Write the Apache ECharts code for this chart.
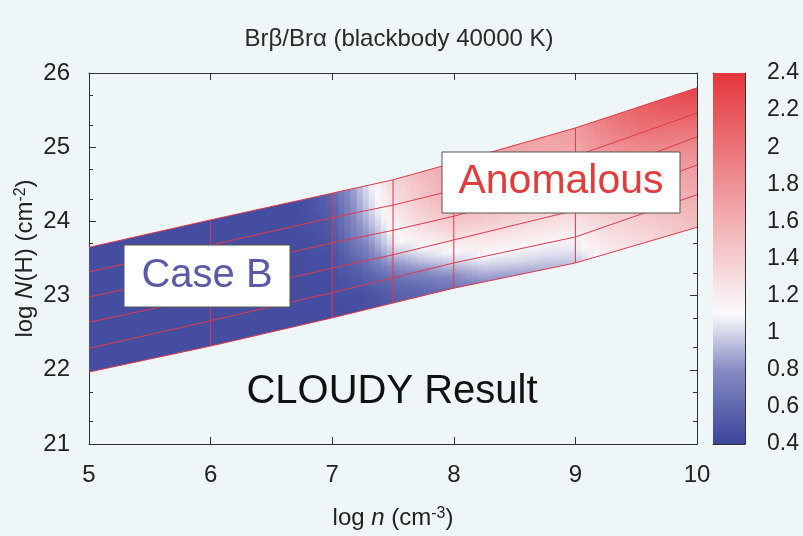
<!DOCTYPE html>
<html>
<head>
<meta charset="utf-8">
<script src="https://cdn.jsdelivr.net/npm/echarts@6/dist/echarts.min.js"></script>
<style>
  html, body { margin: 0; padding: 0; background: #eff6f8; }
  #chart { width: 803px; height: 536px; }
</style>
</head>
<body>
<div id="chart"></div>
<script>
// mesh nodes along log n, and the six mesh lines (log N(H)) from bottom edge to top edge
const xNodes = [5, 6, 7, 7.5, 8, 9, 10]
const line0 = [21.97, 22.32, 22.70, 22.90, 23.10, 23.44, 23.92]
const line1 = [22.29, 22.66, 23.04, 23.24, 23.44, 23.79, 24.36]
const line2 = [22.64, 22.99, 23.37, 23.55, 23.75, 24.15, 24.76]
const line3 = [22.98, 23.34, 23.71, 23.88, 24.07, 24.52, 25.14]
const line4 = [23.32, 23.68, 24.05, 24.22, 24.42, 24.88, 25.46]
const line5 = [23.65, 24.02, 24.38, 24.56, 24.79, 25.26, 25.80]
const gridXs = [6, 7, 7.5, 8, 9]

// Br beta / Br alpha ratio, sampled on columns of log n; rows go from bottom edge (row0) to top edge (row10)
const colX = [5, 5.25, 5.5, 5.75, 6, 6.25, 6.5, 6.75, 7, 7.25, 7.5, 7.75, 8, 8.25, 8.5, 8.75, 9, 9.25, 9.5, 9.75, 10]
const ratioRow0  = [0.45, 0.45, 0.45, 0.45, 0.45, 0.45, 0.45, 0.45, 0.45, 0.45, 0.52, 0.58, 0.66, 0.80, 0.85, 0.90, 0.95, 1.18, 1.28, 1.38, 1.50]
const ratioRow1  = [0.45, 0.45, 0.45, 0.45, 0.45, 0.45, 0.45, 0.45, 0.45, 0.46, 0.56, 0.66, 0.80, 0.95, 1.00, 1.02, 1.05, 1.25, 1.35, 1.45, 1.56]
const ratioRow2  = [0.45, 0.45, 0.45, 0.45, 0.45, 0.45, 0.45, 0.45, 0.45, 0.50, 0.64, 0.80, 0.98, 1.10, 1.12, 1.13, 1.15, 1.32, 1.42, 1.52, 1.62]
const ratioRow3  = [0.45, 0.45, 0.45, 0.45, 0.45, 0.45, 0.45, 0.45, 0.45, 0.55, 0.78, 0.98, 1.12, 1.20, 1.22, 1.23, 1.25, 1.40, 1.50, 1.60, 1.68]
const ratioRow4  = [0.45, 0.45, 0.45, 0.45, 0.45, 0.45, 0.45, 0.45, 0.46, 0.62, 0.94, 1.10, 1.25, 1.30, 1.32, 1.33, 1.35, 1.48, 1.58, 1.67, 1.75]
const ratioRow5  = [0.45, 0.45, 0.45, 0.45, 0.45, 0.45, 0.45, 0.45, 0.47, 0.70, 1.06, 1.22, 1.38, 1.42, 1.43, 1.43, 1.43, 1.56, 1.66, 1.75, 1.83]
const ratioRow6  = [0.45, 0.45, 0.45, 0.45, 0.45, 0.45, 0.45, 0.45, 0.49, 0.78, 1.12, 1.32, 1.48, 1.50, 1.50, 1.50, 1.50, 1.64, 1.75, 1.85, 1.92]
const ratioRow7  = [0.45, 0.45, 0.45, 0.45, 0.45, 0.45, 0.45, 0.45, 0.51, 0.85, 1.18, 1.40, 1.55, 1.56, 1.56, 1.55, 1.56, 1.72, 1.85, 1.95, 2.02]
const ratioRow8  = [0.45, 0.45, 0.45, 0.45, 0.45, 0.45, 0.45, 0.45, 0.53, 0.90, 1.25, 1.46, 1.60, 1.60, 1.60, 1.60, 1.62, 1.80, 1.95, 2.05, 2.12]
const ratioRow9  = [0.45, 0.45, 0.45, 0.45, 0.45, 0.45, 0.45, 0.45, 0.56, 0.94, 1.30, 1.50, 1.63, 1.63, 1.63, 1.64, 1.68, 1.88, 2.03, 2.15, 2.22]
const ratioRow10 = [0.45, 0.45, 0.45, 0.45, 0.45, 0.45, 0.45, 0.45, 0.59, 0.97, 1.34, 1.54, 1.66, 1.66, 1.66, 1.68, 1.72, 1.95, 2.10, 2.22, 2.32]

// tick values
const yMinorTicks = [21.301, 21.699, 22.301, 22.699, 23.301, 23.699, 24.301, 24.699, 25.301, 25.699]
const cbMin = 0.4
const cbMax = 2.4

const lines = [line0, line1, line2, line3, line4, line5]
const ratioRows = [ratioRow0, ratioRow1, ratioRow2, ratioRow3, ratioRow4, ratioRow5,
  ratioRow6, ratioRow7, ratioRow8, ratioRow9, ratioRow10]

const fontFamily = '"Liberation Sans", Arial, Helvetica, sans-serif'
const meshColor = '#e0394b'
const axisColor = '#333'

// blue - white - red palette
const paletteStops = [
  [0.4, [58, 68, 155]],
  [0.8, [135, 140, 196]],
  [1.1, [250, 250, 252]],
  [2.4, [228, 54, 60]]
]
function ratioColor(v) {
  if (v <= paletteStops[0][0]) v = paletteStops[0][0]
  if (v >= paletteStops[paletteStops.length - 1][0]) v = paletteStops[paletteStops.length - 1][0]
  for (let k = 0; k < paletteStops.length - 1; k++) {
    const a = paletteStops[k]
    const b = paletteStops[k + 1]
    if (v <= b[0]) {
      const t = (v - a[0]) / (b[0] - a[0])
      const c = a[1].map((ch, n) => Math.round(ch + (b[1][n] - ch) * t))
      return 'rgb(' + c.join(',') + ')'
    }
  }
  return 'rgb(228,54,60)'
}

// mesh line position at x (lines are straight between nodes)
function lineAt(j, x) {
  const ys = lines[j]
  let k = 0
  while (k < xNodes.length - 2 && x > xNodes[k + 1]) k++
  const t = (x - xNodes[k]) / (xNodes[k + 1] - xNodes[k])
  return ys[k] + (ys[k + 1] - ys[k]) * t
}
function rowAt(r, x) {
  if (r % 2 === 0) return lineAt(r / 2, x)
  return (lineAt((r - 1) / 2, x) + lineAt((r + 1) / 2, x)) / 2
}

const nSub = 5
function renderBand(params, api) {
  const i = api.value(2)
  const xa0 = colX[i]
  const xb0 = colX[i + 1]
  const step = (xb0 - xa0) / nSub
  const children = []
  for (let k = 0; k < nSub; k++) {
    const xa = xa0 + step * k
    const xb = xa + step + 0.01
    const xc = xa + step / 2
    const t = (xc - xa0) / (xb0 - xa0)
    const pb = api.coord([xc, rowAt(0, xc)])
    const pt = api.coord([xc, rowAt(10, xc)])
    const stops = []
    for (let r = 0; r <= 10; r++) {
      const v = ratioRows[r][i] + (ratioRows[r][i + 1] - ratioRows[r][i]) * t
      const py = api.coord([xc, rowAt(r, xc)])[1]
      stops.push({ offset: Math.min(1, Math.max(0, (pb[1] - py) / (pb[1] - pt[1]))), color: ratioColor(v) })
    }
    children.push({
      type: 'polygon',
      shape: {
        points: [
          api.coord([xa, lineAt(0, xa)]),
          api.coord([xb, lineAt(0, xb)]),
          api.coord([xb, lineAt(5, xb)]),
          api.coord([xa, lineAt(5, xa)])
        ]
      },
      style: {
        fill: { type: 'linear', x: pb[0], y: pb[1], x2: pt[0], y2: pt[1], colorStops: stops, global: true }
      }
    })
  }
  return { type: 'group', children: children }
}

function renderVertical(params, api) {
  const p1 = api.coord([api.value(0), api.value(1)])
  const p2 = api.coord([api.value(0), api.value(2)])
  return {
    type: 'line',
    shape: { x1: p1[0], y1: p1[1], x2: p2[0], y2: p2[1] },
    style: { stroke: meshColor, lineWidth: 1 }
  }
}

function renderColorbar(params, api) {
  const top = api.coord([0, api.value(2)])
  const bottom = api.coord([0, api.value(1)])
  const cs = params.coordSys
  const stops = paletteStops.map(s => ({ offset: (s[0] - cbMin) / (cbMax - cbMin), color: ratioColor(s[0]) }))
  return {
    type: 'rect',
    shape: { x: cs.x, y: top[1], width: cs.width, height: bottom[1] - top[1] },
    style: { fill: { type: 'linear', x: 0, y: 1, x2: 0, y2: 0, colorStops: stops } }
  }
}

const labelStyle = { fontFamily: fontFamily, fontSize: 24, color: '#222' }
const hiddenAxisBits = { axisLabel: { show: false }, splitLine: { show: false } }
const nameRich = {
  t: { fontFamily: fontFamily, fontSize: 24, color: '#222' },
  i: { fontFamily: fontFamily, fontSize: 24, color: '#222', fontStyle: 'italic' },
  s: { fontFamily: fontFamily, fontSize: 16, color: '#222', verticalAlign: 'top', lineHeight: 12 }
}

const chart = echarts.init(document.getElementById('chart'))

const bandData = colX.slice(0, -1).map((x, i) => [x, 23, i])
const verticalData = gridXs.map(x => {
  const k = xNodes.indexOf(x)
  return [x, line0[k], line5[k]]
})
const lineSeries = lines.map((ys, j) => ({
  type: 'line',
  name: 'line' + j,
  xAxisIndex: 0,
  yAxisIndex: 0,
  data: xNodes.map((x, k) => [x, ys[k]]),
  symbol: 'none',
  silent: true,
  z: 4,
  lineStyle: { color: meshColor, width: 1 }
}))

const option = {
  animation: false,
  backgroundColor: '#eff6f8',
  title: {
    text: 'Br\u03b2/Br\u03b1 (blackbody 40000 K)',
    left: 394,
    top: 22,
    textAlign: 'center',
    textStyle: { fontFamily: fontFamily, fontSize: 24, fontWeight: 'normal', color: '#2a2a2a' }
  },
  grid: [
    { left: 89, top: 73, width: 608, height: 371 },
    { left: 713, top: 73, width: 32, height: 371 }
  ],
  xAxis: [
    {
      gridIndex: 0, type: 'value', min: 5, max: 10, interval: 1, position: 'bottom',
      axisLine: { onZero: false, lineStyle: { color: axisColor, width: 1 } },
      axisTick: { inside: true, length: 7, lineStyle: { color: axisColor } },
      axisLabel: Object.assign({ margin: 19 }, labelStyle),
      splitLine: { show: false },
      name: '{t|log }{i|n}{t| (cm}{s|-3}{t|)}',
      nameLocation: 'middle',
      nameGap: 62,
      nameTextStyle: { rich: nameRich }
    },
    {
      gridIndex: 0, type: 'value', min: 5, max: 10, interval: 1, position: 'top',
      axisLine: { onZero: false, lineStyle: { color: axisColor, width: 1 } },
      axisTick: { inside: true, length: 7, lineStyle: { color: axisColor } },
      axisLabel: { show: false }, splitLine: { show: false }
    },
    {
      gridIndex: 1, type: 'value', min: 0, max: 1, position: 'bottom',
      axisLine: { onZero: false, lineStyle: { color: axisColor } },
      axisTick: { show: false }, axisLabel: { show: false }, splitLine: { show: false }
    },
    {
      gridIndex: 1, type: 'value', min: 0, max: 1, position: 'top',
      axisLine: { onZero: false, lineStyle: { color: axisColor } },
      axisTick: { show: false }, axisLabel: { show: false }, splitLine: { show: false }
    }
  ],
  yAxis: [
    {
      gridIndex: 0, type: 'value', min: 21, max: 26, interval: 1, position: 'left',
      axisLine: { show: true, onZero: false, lineStyle: { color: axisColor, width: 1 } },
      axisTick: { inside: true, length: 7, lineStyle: { color: axisColor } },
      axisLabel: Object.assign({ margin: 19 }, labelStyle),
      splitLine: { show: false },
      name: '{t|log }{i|N}{t|(H) (cm}{s|-2}{t|)}',
      nameLocation: 'middle',
      nameRotate: 90,
      nameGap: 52,
      nameMoveOverlap: false,
      nameTextStyle: { rich: nameRich }
    },
    {
      gridIndex: 0, type: 'value', min: 21, max: 26, interval: 1, position: 'right',
      axisLine: { show: true, onZero: false, lineStyle: { color: axisColor, width: 1 } },
      axisTick: { inside: true, length: 7, lineStyle: { color: axisColor } },
      axisLabel: { show: false }, splitLine: { show: false }
    },
    Object.assign({
      gridIndex: 0, type: 'value', min: 21, max: 26, position: 'left',
      axisLine: { show: false },
      axisTick: { inside: true, length: 4, customValues: yMinorTicks, lineStyle: { color: axisColor } }
    }, hiddenAxisBits),
    Object.assign({
      gridIndex: 0, type: 'value', min: 21, max: 26, position: 'right',
      axisLine: { show: false },
      axisTick: { inside: true, length: 4, customValues: yMinorTicks, lineStyle: { color: axisColor } }
    }, hiddenAxisBits),
    {
      gridIndex: 1, type: 'value', min: cbMin, max: cbMax, interval: 0.2, position: 'right',
      axisLine: { show: true, onZero: false, lineStyle: { color: axisColor } },
      axisTick: { inside: true, length: 6, lineStyle: { color: axisColor } },
      axisLabel: Object.assign({ margin: 22 }, labelStyle, { fontSize: 23 }),
      splitLine: { show: false }
    },
    {
      gridIndex: 1, type: 'value', min: cbMin, max: cbMax, interval: 0.2, position: 'left',
      axisLine: { show: true, onZero: false, lineStyle: { color: axisColor } },
      axisTick: { inside: true, length: 6, lineStyle: { color: axisColor } },
      axisLabel: { show: false }, splitLine: { show: false }
    }
  ],
  series: [
    {
      type: 'custom',
      name: 'ratio',
      xAxisIndex: 0,
      yAxisIndex: 0,
      clip: true,
      silent: true,
      z: 2,
      renderItem: renderBand,
      encode: { x: 0, y: 1 },
      data: bandData
    },
    {
      type: 'custom',
      name: 'mesh-verticals',
      xAxisIndex: 0,
      yAxisIndex: 0,
      silent: true,
      z: 4,
      renderItem: renderVertical,
      encode: { x: 0, y: [1, 2] },
      data: verticalData
    },
    ...lineSeries,
    {
      type: 'custom',
      name: 'colorbar',
      xAxisIndex: 2,
      yAxisIndex: 4,
      silent: true,
      renderItem: renderColorbar,
      encode: { x: 0, y: [1, 2] },
      data: [[0.5, cbMin, cbMax]]
    }
  ],
  graphic: [
    {
      type: 'rect', z: 100,
      shape: { x: 124, y: 245, width: 166, height: 62 },
      style: { fill: '#fff', stroke: '#555', lineWidth: 1 }
    },
    {
      type: 'text', z: 101,
      style: { text: 'Case B', x: 207, y: 276, textAlign: 'center', textVerticalAlign: 'middle',
        fontFamily: fontFamily, fontSize: 40, fill: '#5a5aa8' }
    },
    {
      type: 'rect', z: 100,
      shape: { x: 442, y: 152, width: 238, height: 61 },
      style: { fill: '#fff', stroke: '#555', lineWidth: 1 }
    },
    {
      type: 'text', z: 101,
      style: { text: 'Anomalous', x: 561, y: 182, textAlign: 'center', textVerticalAlign: 'middle',
        fontFamily: fontFamily, fontSize: 41, fill: '#e23c3c' }
    },
    {
      type: 'text', z: 101,
      style: { text: 'CLOUDY Result', x: 392, y: 392, textAlign: 'center', textVerticalAlign: 'middle',
        fontFamily: fontFamily, fontSize: 40, fill: '#111' }
    }
  ]
}

chart.setOption(option)
</script>
</body>
</html>
